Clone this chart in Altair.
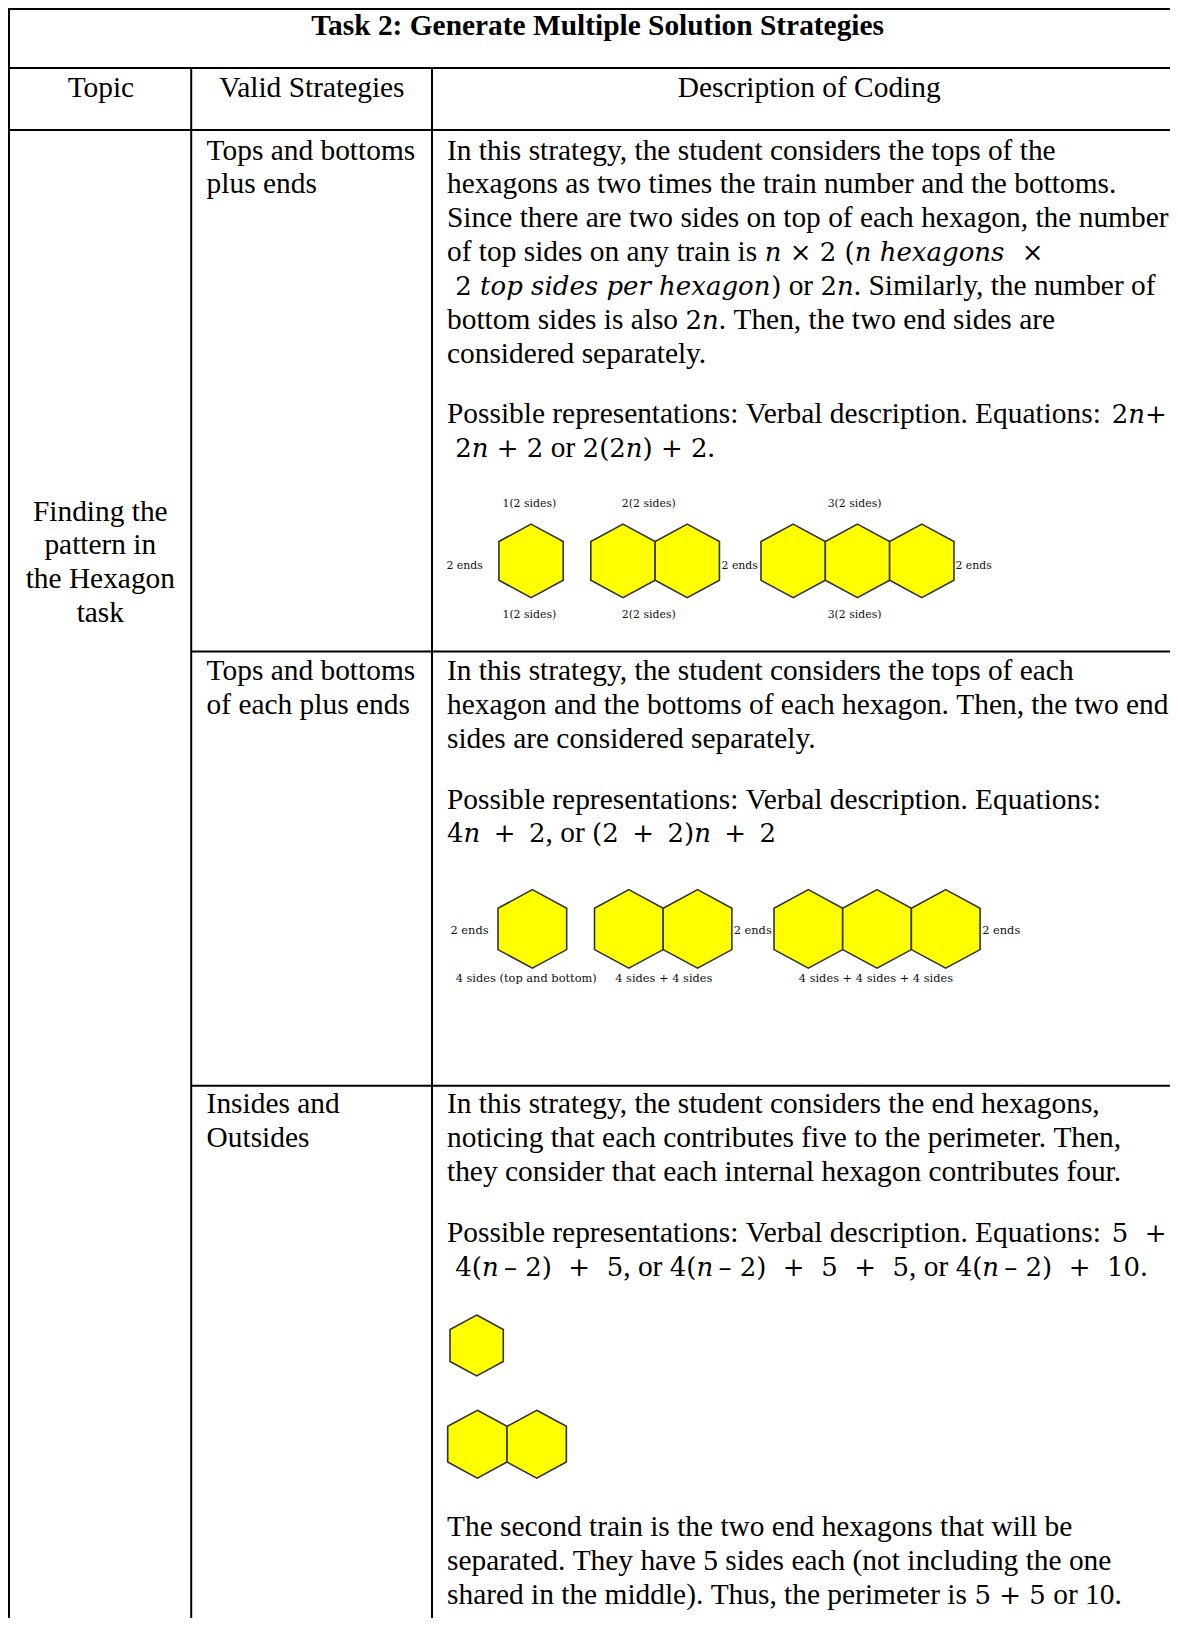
import altair as alt
import pandas as pd

# ---------------- content ----------------
TITLE = "Task 2: Generate Multiple Solution Strategies"
HEADERS = ["Topic", "Valid Strategies", "Description of Coding"]
TOPIC_LINES = ["Finding the", "pattern in", "the Hexagon", "task"]
STRATEGY_LINES = [
    ["Tops and bottoms", "plus ends"],
    ["Tops and bottoms", "of each plus ends"],
    ["Insides and", "Outsides"],
]
# description lines: list of (text, style) segments; r = text, m = math, i = math italic
DESC_ROW1 = [
    [[("In this strategy, the student considers the tops of the", "r")],
     [("hexagons as two times the train number and the bottoms.", "r")],
     [("Since there are two sides on top of each hexagon, the number", "r")],
     [("of top sides on any train is ", "r"), ("n", "i"), (" \u00d7 2 (", "m"), ("n hexagons", "i"), ("  \u00d7", "m")],
     [(" 2 ", "m"), ("top sides per hexagon", "i"), (")", "m"), (" or ", "r"), ("2", "m"), ("n", "i"),
      (". Similarly, the number of", "r")],
     [("bottom sides is also ", "r"), ("2", "m"), ("n", "i"), (". Then, the two end sides are", "r")],
     [("considered separately.", "r")]],
    [[("Possible representations: Verbal description. Equations: ", "r"), ("2", "m"), ("n", "i"), ("+", "m")],
     [(" 2", "m"), ("n", "i"), (" + 2", "m"), (" or ", "r"), ("2(2", "m"), ("n", "i"), (") + 2", "m"), (".", "r")]],
]
DESC_ROW2 = [
    [[("In this strategy, the student considers the tops of each", "r")],
     [("hexagon and the bottoms of each hexagon. Then, the two end", "r")],
     [("sides are considered separately.", "r")]],
    [[("Possible representations: Verbal description. Equations:", "r")],
     [("4", "m"), ("n", "i"), (" \u2009+ \u20092", "m"), (", or ", "r"), ("(2 \u2009+ \u20092)", "m"), ("n", "i"),
      (" \u2009+ \u20092", "m")]],
]
DESC_ROW3 = [
    [[("In this strategy, the student considers the end hexagons,", "r")],
     [("noticing that each contributes five to the perimeter. Then,", "r")],
     [("they consider that each internal hexagon contributes four.", "r")]],
    [[("Possible representations: Verbal description. Equations: ", "r"), ("5  +", "m")],
     [(" 4(", "m"), ("n", "i"), ("\u2009\u2013 2)  +  5", "m"), (", or ", "r"), ("4(", "m"), ("n", "i"),
      ("\u2009\u2013 2)  +  5  +  5", "m"), (", or ", "r"), ("4(", "m"), ("n", "i"),
      ("\u2009\u2013 2)  +  10", "m"), (".", "r")]],
    [[("The second train is the two end hexagons that will be", "r")],
     [("separated. They have 5 sides each (not including the one", "r")],
     [("shared in the middle). Thus, the perimeter is ", "r"), ("5 + 5", "m"), (" or 10.", "r")]],
]
IMG1_TOP_LABELS = ["1(2 sides)", "2(2 sides)", "3(2 sides)"]
IMG1_BOTTOM_LABELS = ["1(2 sides)", "2(2 sides)", "3(2 sides)"]
IMG1_END_LABELS = ["2 ends", "2 ends", "2 ends"]
IMG2_END_LABELS = ["2 ends", "2 ends", "2 ends"]
IMG2_BOTTOM_LABELS = ["4 sides (top and bottom)", "4 sides + 4 sides", "4 sides + 4 sides + 4 sides"]
IMG1_TRAINS = [1, 2, 3]
IMG2_TRAINS = [1, 2, 3]
IMG3_TRAINS = [1, 2]

# ---------------- layout ----------------
W, H = 1162, 1610
OX, OY = 8, 8
FS_TEXT, FS_MATH = 29.4, 26.0
LH = 33.87
TITLE_CX, TITLE_Y = 597.6, 35.3
HEADER_CX, HEADER_Y = [100.9, 311.9, 809.2], 96.9
TOPIC_CX, TOPIC_Y0 = 100.3, 520.6
COL2_X, COL3_X = 206.6, 447.0
ROW_PARA_Y = [[159.5, 422.7], [679.9, 808.6], [1113.0, 1242.2, 1536.2]]
C1, C2 = 191.2, 432.0
HLINES = [(OX, OX + W, 9), (OX, OX + W, 68.1), (OX, OX + W, 130.0), (C1, OX + W, 651.6), (C1, OX + W, 1085.8)]
VLINES = [(9, OY, OY + H), (C1, 68.1, OY + H), (C2, 68.1, OY + H)]

IMG1 = dict(left=[498.9, 590.8, 761.0], h=[73.5, 73.5, 73.5], cy=[560.9, 560.9, 560.9])
IMG2 = dict(left=[498.0, 594.5, 774.0], h=[78.5, 78.5, 78.5], cy=[928.9, 928.9, 928.9])
IMG3 = dict(left=[450.0, 447.7], h=[60.9, 67.8], cy=[1345.5, 1444.2])
HEX_ASPECT = 0.875
HEX_PATH = "M0,-1L0.875,-0.527L0.875,0.527L0,1L-0.875,0.527L-0.875,-0.527Z"

IMG1_TOP_X, IMG1_TOP_Y = [529.4, 648.8, 854.6], 504.4
IMG1_BOT_Y = 614.7
IMG1_END_X, IMG1_END_Y = [464.6, 739.7, 973.6], 565.7
IMG2_END_X, IMG2_END_Y = [469.5, 752.7, 1001.2], 930.6
IMG2_BOT_X, IMG2_BOT_Y = [526.2, 663.8, 875.9], 978.7

# ---------------- font metrics (em) for placing mixed segments ----------------
TW = {' ': .25, ',': .25, '.': .25, ':': .278, ';': .278, '(': .333, ')': .333, '-': .333,
      '\u2013': .5, '+': .564, '\u00d7': .564}
TW.update({c: .5 for c in "0123456789"})
TW.update(dict(a=.444, b=.5, c=.444, d=.5, e=.444, f=.333, g=.5, h=.5, i=.278, j=.278, k=.5, l=.278,
               m=.778, n=.5, o=.5, p=.5, q=.5, r=.333, s=.389, t=.278, u=.5, v=.5, w=.722, x=.5, y=.5, z=.444))
TW.update(dict(A=.722, B=.667, C=.667, D=.722, E=.611, F=.556, G=.722, H=.722, I=.333, J=.389, K=.722,
               L=.611, M=.889, N=.722, O=.722, P=.556, Q=.722, R=.667, S=.556, T=.611, U=.722, V=.722,
               W=.944, X=.722, Y=.722, Z=.611))
DW = {' ': .318, '\u2009': .2, '(': .39, ')': .39, '+': .838, '\u00d7': .838, '\u2013': .5, '.': .318, ',': .318}
DW.update({c: .636 for c in "0123456789"})
DIW = dict(n=.644, h=.644, e=.592, x=.592, a=.596, g=.640, o=.602, s=.513, t=.402, p=.640, i=.320,
           d=.640, r=.478)
DIW[' '] = .318
METRICS = {"r": (TW, FS_TEXT), "m": (DW, FS_MATH), "i": (DIW, FS_MATH)}
WS = " \u2009"


def width(text, style):
    table, fs = METRICS[style]
    return sum(table.get(c, 0.5) for c in text) * fs


def layout_line(segs, x0, y):
    out, x = [], x0
    for text, style in segs:
        core = text.strip(WS)
        lead = text[:len(text) - len(text.lstrip(WS))]
        out.append(dict(x=x + width(lead, style), y=y, text=core.replace(" ", "\u00a0"), style=style))
        x += width(text, style)
    return out


seg_rows = []
for paras, starts in zip([DESC_ROW1, DESC_ROW2, DESC_ROW3], ROW_PARA_Y):
    for para, y0 in zip(paras, starts):
        for j, line in enumerate(para):
            seg_rows += layout_line(line, COL3_X, y0 + j * LH)
segs = pd.DataFrame(seg_rows)

left_rows = [dict(x=r["x"], y=r["y"], text=r["text"]) for r in seg_rows if r["style"] == "r"]
for lines, starts in zip(STRATEGY_LINES, ROW_PARA_Y):
    for j, t in enumerate(lines):
        left_rows.append(dict(x=COL2_X, y=starts[0] + j * LH, text=t))
left_df = pd.DataFrame(left_rows)
math_df = segs[segs["style"] == "m"]
ital_df = segs[segs["style"] == "i"]

center_rows = [dict(x=cx, y=HEADER_Y, text=t) for cx, t in zip(HEADER_CX, HEADERS)]
center_rows += [dict(x=TOPIC_CX, y=TOPIC_Y0 + j * LH, text=t) for j, t in enumerate(TOPIC_LINES)]
center_df = pd.DataFrame(center_rows)
title_df = pd.DataFrame([dict(x=TITLE_CX, y=TITLE_Y, text=TITLE)])

hex_rows = []
for img, trains in [(IMG1, IMG1_TRAINS), (IMG2, IMG2_TRAINS), (IMG3, IMG3_TRAINS)]:
    for n, left, h, cy in zip(trains, img["left"], img["h"], img["cy"]):
        w = h * HEX_ASPECT
        for k in range(n):
            hex_rows.append(dict(x=left + w / 2 + k * w, y=cy, size=h * h))
hex_df = pd.DataFrame(hex_rows)

lab_rows = []
lab_rows += [dict(x=x, y=IMG1_TOP_Y, text=t, size=10.9) for x, t in zip(IMG1_TOP_X, IMG1_TOP_LABELS)]
lab_rows += [dict(x=x, y=IMG1_BOT_Y, text=t, size=10.9) for x, t in zip(IMG1_TOP_X, IMG1_BOTTOM_LABELS)]
lab_rows += [dict(x=x, y=IMG1_END_Y, text=t, size=10.9) for x, t in zip(IMG1_END_X, IMG1_END_LABELS)]
lab_rows += [dict(x=x, y=IMG2_END_Y, text=t, size=11.4) for x, t in zip(IMG2_END_X, IMG2_END_LABELS)]
lab_rows += [dict(x=x, y=IMG2_BOT_Y, text=t, size=11.4) for x, t in zip(IMG2_BOT_X, IMG2_BOTTOM_LABELS)]
lab_df = pd.DataFrame(lab_rows)

rule_rows = [dict(x=a, x2=b, y=y, y2=y) for a, b, y in HLINES]
rule_rows += [dict(x=x, x2=x, y=a, y2=b) for x, a, b in VLINES]
rule_df = pd.DataFrame(rule_rows)

# ---------------- chart ----------------
xs = alt.Scale(domain=[OX, OX + W], nice=False, zero=False)
ys = alt.Scale(domain=[OY, OY + H], nice=False, zero=False, reverse=True)
X = alt.X("x:Q", scale=xs, axis=None)
Y = alt.Y("y:Q", scale=ys, axis=None)

rules = alt.Chart(rule_df).mark_rule(color="black", strokeWidth=2).encode(
    x=X, x2="x2:Q", y=Y, y2="y2:Q")

hexes = alt.Chart(hex_df).mark_point(
    shape=HEX_PATH, filled=True, fill="#FFFF00", stroke="#333333", strokeWidth=1.6,
    fillOpacity=1, strokeOpacity=1).encode(x=X, y=Y, size=alt.Size("size:Q", scale=None))


def text_layer(df, **kw):
    return alt.Chart(df).mark_text(baseline="alphabetic", color="black", **kw).encode(
        x=X, y=Y, text="text:N")


title = text_layer(title_df, font="Liberation Serif", fontSize=FS_TEXT, fontWeight="bold", align="center")
centered = text_layer(center_df, font="Liberation Serif", fontSize=FS_TEXT, align="center")
lefts = text_layer(left_df, font="Liberation Serif", fontSize=FS_TEXT, align="left")
maths = text_layer(math_df, font="DejaVu Serif", fontSize=FS_MATH, align="left")
itals = text_layer(ital_df, font="DejaVu Serif", fontSize=FS_MATH, fontStyle="italic", align="left")

labels = alt.Chart(lab_df).mark_text(font="DejaVu Serif", align="center", baseline="middle",
                                     color="#111111").encode(
    x=X, y=Y, text="text:N", size=alt.Size("size:Q", scale=None))

chart = alt.layer(rules, hexes, labels, title, centered, lefts, maths, itals).properties(
    width=W, height=H, padding=0, background="white",
    autosize=alt.AutoSizeParams(type="none"),
).configure_view(strokeWidth=0)

chart.save("out.html", embed_options={"renderer": "svg", "actions": False})
